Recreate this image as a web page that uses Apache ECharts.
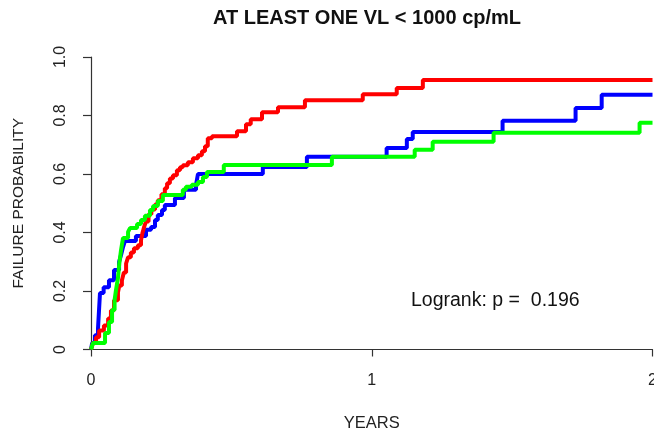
<!DOCTYPE html>
<html>
<head>
<meta charset="utf-8">
<script src="https://cdn.jsdelivr.net/npm/echarts@6/dist/echarts.min.js"></script>
<style>
  html, body { margin: 0; padding: 0; background: #fff; }
  #chart { width: 654px; height: 431px; }
</style>
</head>
<body>
<div id="chart"></div>
<script>
// Kaplan-Meier failure curves (time in years, cumulative failure)
var blueTimes = [0, 0.004, 0.014, 0.025, 0.032, 0.045, 0.064, 0.082, 0.100, 0.107, 0.114, 0.121, 0.160, 0.196, 0.214, 0.228, 0.238, 0.253, 0.263, 0.299, 0.331, 0.374, 0.381, 0.612, 0.769, 1.053, 1.125, 1.146, 1.466, 1.726, 1.819, 2.0]
var blueProb  = [0, 0.022, 0.049, 0.073, 0.193, 0.213, 0.237, 0.272, 0.299, 0.323, 0.350, 0.371, 0.388, 0.409, 0.419, 0.443, 0.460, 0.477, 0.494, 0.518, 0.546, 0.563, 0.600, 0.624, 0.659, 0.689, 0.720, 0.744, 0.782, 0.826, 0.871, 0.871]

var redTimes = [0, 0.007, 0.018, 0.029, 0.046, 0.061, 0.071, 0.082, 0.096, 0.101, 0.110, 0.117, 0.125, 0.132, 0.142, 0.153, 0.167, 0.178, 0.183, 0.189, 0.196, 0.205, 0.215, 0.228, 0.238, 0.251, 0.263, 0.271, 0.281, 0.292, 0.306, 0.317, 0.327, 0.345, 0.363, 0.381, 0.395, 0.406, 0.416, 0.431, 0.520, 0.552, 0.569, 0.609, 0.666, 0.762, 0.968, 1.089, 1.182, 2.0]
var redProb  = [0, 0.022, 0.042, 0.065, 0.082, 0.106, 0.133, 0.168, 0.195, 0.219, 0.236, 0.263, 0.294, 0.315, 0.332, 0.346, 0.356, 0.373, 0.397, 0.418, 0.438, 0.462, 0.479, 0.496, 0.510, 0.531, 0.551, 0.568, 0.585, 0.596, 0.613, 0.623, 0.630, 0.640, 0.654, 0.664, 0.678, 0.695, 0.722, 0.729, 0.746, 0.770, 0.787, 0.811, 0.828, 0.852, 0.873, 0.894, 0.921, 0.921]

var greenTimes = [0, 0.007, 0.050, 0.064, 0.075, 0.084, 0.089, 0.096, 0.101, 0.107, 0.114, 0.132, 0.139, 0.164, 0.178, 0.192, 0.210, 0.221, 0.238, 0.256, 0.327, 0.338, 0.359, 0.381, 0.399, 0.413, 0.473, 0.858, 1.153, 1.217, 1.434, 1.954, 2.0]
var greenProb  = [0, 0.022, 0.056, 0.094, 0.135, 0.169, 0.203, 0.244, 0.296, 0.340, 0.381, 0.402, 0.415, 0.429, 0.443, 0.457, 0.477, 0.491, 0.508, 0.528, 0.546, 0.556, 0.563, 0.573, 0.590, 0.607, 0.631, 0.659, 0.683, 0.710, 0.741, 0.775, 0.775]

var yTickLabels = ['0', '0.2', '0.4', '0.6', '0.8', '1.0']
var xTickLabels = ['0', '1', '2']

var FONT = '"Liberation Sans", Arial, sans-serif'

function pairs(t, p) {
  var out = []
  for (var i = 0; i < t.length; i++) out.push([t[i], p[i]])
  return out
}

function kmSeries(name, color, t, p) {
  return {
    name: name,
    type: 'line',
    step: 'end',
    showSymbol: false,
    symbol: 'none',
    clip: true,
    lineStyle: { color: color, width: 4 },
    itemStyle: { color: color },
    data: pairs(t, p)
  }
}

var chart = echarts.init(document.getElementById('chart'), null, { renderer: 'canvas' })

var option = {
  animation: false,
  backgroundColor: '#ffffff',
  grid: { left: 91, right: 1.5, top: 57, bottom: 81.5, containLabel: false, outerBoundsMode: 'none' },
  xAxis: {
    type: 'value',
    min: 0,
    max: 2,
    interval: 1,
    name: 'YEARS',
    nameLocation: 'middle',
    nameGap: 65,
    nameTextStyle: { fontFamily: FONT, fontSize: 16.5, color: '#222' },
    axisLine: { show: true, lineStyle: { color: '#333', width: 1.2 } },
    axisTick: { show: true, length: 7, lineStyle: { color: '#333', width: 1.2 } },
    axisLabel: {
      margin: 23,
      fontFamily: FONT, fontSize: 16, color: '#222',
      formatter: function (v) { return xTickLabels[Math.round(v)] }
    },
    splitLine: { show: false }
  },
  yAxis: {
    type: 'value',
    min: 0,
    max: 1,
    interval: 0.2,
    name: 'FAILURE PROBABILITY',
    nameLocation: 'middle',
    nameGap: 64,
    nameTextStyle: { fontFamily: FONT, fontSize: 15.5, color: '#222' },
    axisLine: { show: true, lineStyle: { color: '#333', width: 1.2 } },
    axisTick: { show: true, length: 8, lineStyle: { color: '#333', width: 1.2 } },
    axisLabel: {
      rotate: 90,
      margin: 22,
      fontFamily: FONT, fontSize: 16, color: '#222',
      formatter: function (v) { return yTickLabels[Math.round(v * 5)] }
    },
    splitLine: { show: false }
  },
  graphic: [
    {
      type: 'text',
      left: 371 - 158,
      top: 8,
      style: {
        text: 'AT LEAST ONE VL < 1000 cp/mL',
        fontFamily: FONT, fontSize: 20, fontWeight: 'bold', fill: '#111'
      }
    },
    {
      type: 'text',
      left: 411,
      top: 291,
      style: {
        text: 'Logrank: p =  0.196',
        fontFamily: FONT, fontSize: 19.5, fill: '#111'
      }
    }
  ],
  series: [
    kmSeries('blue', '#0000ff', blueTimes, blueProb),
    kmSeries('red', '#ff0000', redTimes, redProb),
    kmSeries('green', '#00ff00', greenTimes, greenProb)
  ]
}

chart.setOption(option)
</script>
</body>
</html>
